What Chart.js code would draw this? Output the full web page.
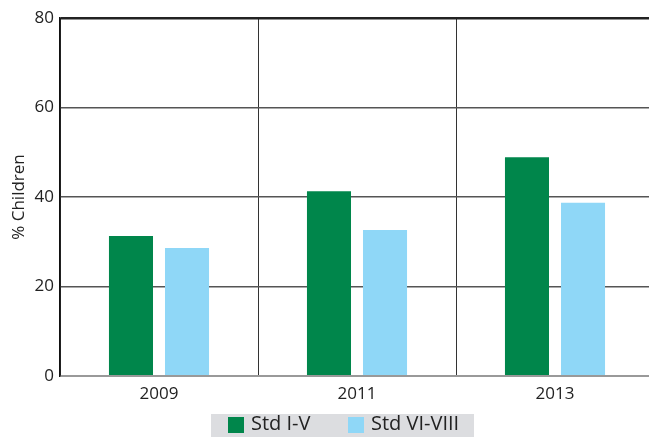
<!DOCTYPE html>
<html>
<head>
<meta charset="utf-8">
<script src="https://cdn.jsdelivr.net/npm/chart.js@4"></script>
<style>
body{margin:0;overflow:hidden;background:#fff;font-family:"Open Sans",sans-serif;}
#wrap{position:relative;width:660px;height:437px;}
#legend{position:absolute;left:211px;top:414px;width:263px;height:26px;background:#dcdde0;color:#222;font-size:20px;line-height:24px;}
#legend span.box{position:absolute;top:3px;width:16px;height:16px;}
#legend span.txt{position:absolute;top:-3px;}
</style>
</head>
<body>
<div id="wrap">
<canvas id="chart" width="660" height="437"></canvas>
<div id="legend"></div>
</div>
<script>
const years = ["2009","2011","2013"];
const stdOneToFive = [31.3, 41.3, 48.9];
const stdSixToEight = [28.6, 32.6, 38.7];
const seriesNames = ["Std I-V","Std VI-VIII"];
const seriesColors = ["#00864b","#8fd7f7"];
const yTicks = [0,20,40,60,80];

const ctx = document.getElementById("chart");

const chart = new Chart(ctx,{
type:"bar",
data:{
labels:years,
datasets:[{
label:seriesNames[0],
data:stdOneToFive,
backgroundColor:seriesColors[0],
categoryPercentage:0.566,
barPercentage:0.786
},{
label:seriesNames[1],
data:stdSixToEight,
backgroundColor:seriesColors[1],
categoryPercentage:0.566,
barPercentage:0.786
}]
},
options:{
responsive:false,
animation:false,
layout:{padding:{left:0,right:6,top:18,bottom:31}},
plugins:{legend:{display:false},tooltip:{enabled:false}},
scales:{
x:{
grid:{color:"#333",lineWidth:1,drawTicks:false},
border:{display:false},
ticks:{color:"#222",font:{family:"Open Sans",size:17},padding:8},
afterFit:s=>{s.height=30;}
},
y:{
min:0,max:80,
afterBuildTicks:s=>{s.ticks=yTicks.map(v=>({value:v}));},
grid:{
color:c=>c.tick.value===0?"#999":(c.tick.value===80?"#222":"#555"),
lineWidth:c=>c.tick.value===80?2.5:(c.tick.value===0?2:1.5),
drawTicks:false
},
border:{display:true,color:"#111",width:1.5},
ticks:{color:"#222",font:{family:"Open Sans",size:17},padding:6},
title:{display:true,text:"% Children",color:"#222",font:{family:"Open Sans",size:17},padding:{top:9,bottom:0}},
afterFit:s=>{s.width=60;}
}
}
}
});

const legend = document.getElementById("legend");
const boxX = [17,137];
const txtX = [40,160];
seriesNames.forEach((name,i)=>{
const b = document.createElement("span");
b.className="box";
b.style.left=boxX[i]+"px";
b.style.background=seriesColors[i];
legend.appendChild(b);
const t = document.createElement("span");
t.className="txt";
t.style.left=txtX[i]+"px";
t.textContent=name;
legend.appendChild(t);
});
</script>
</body>
</html>
